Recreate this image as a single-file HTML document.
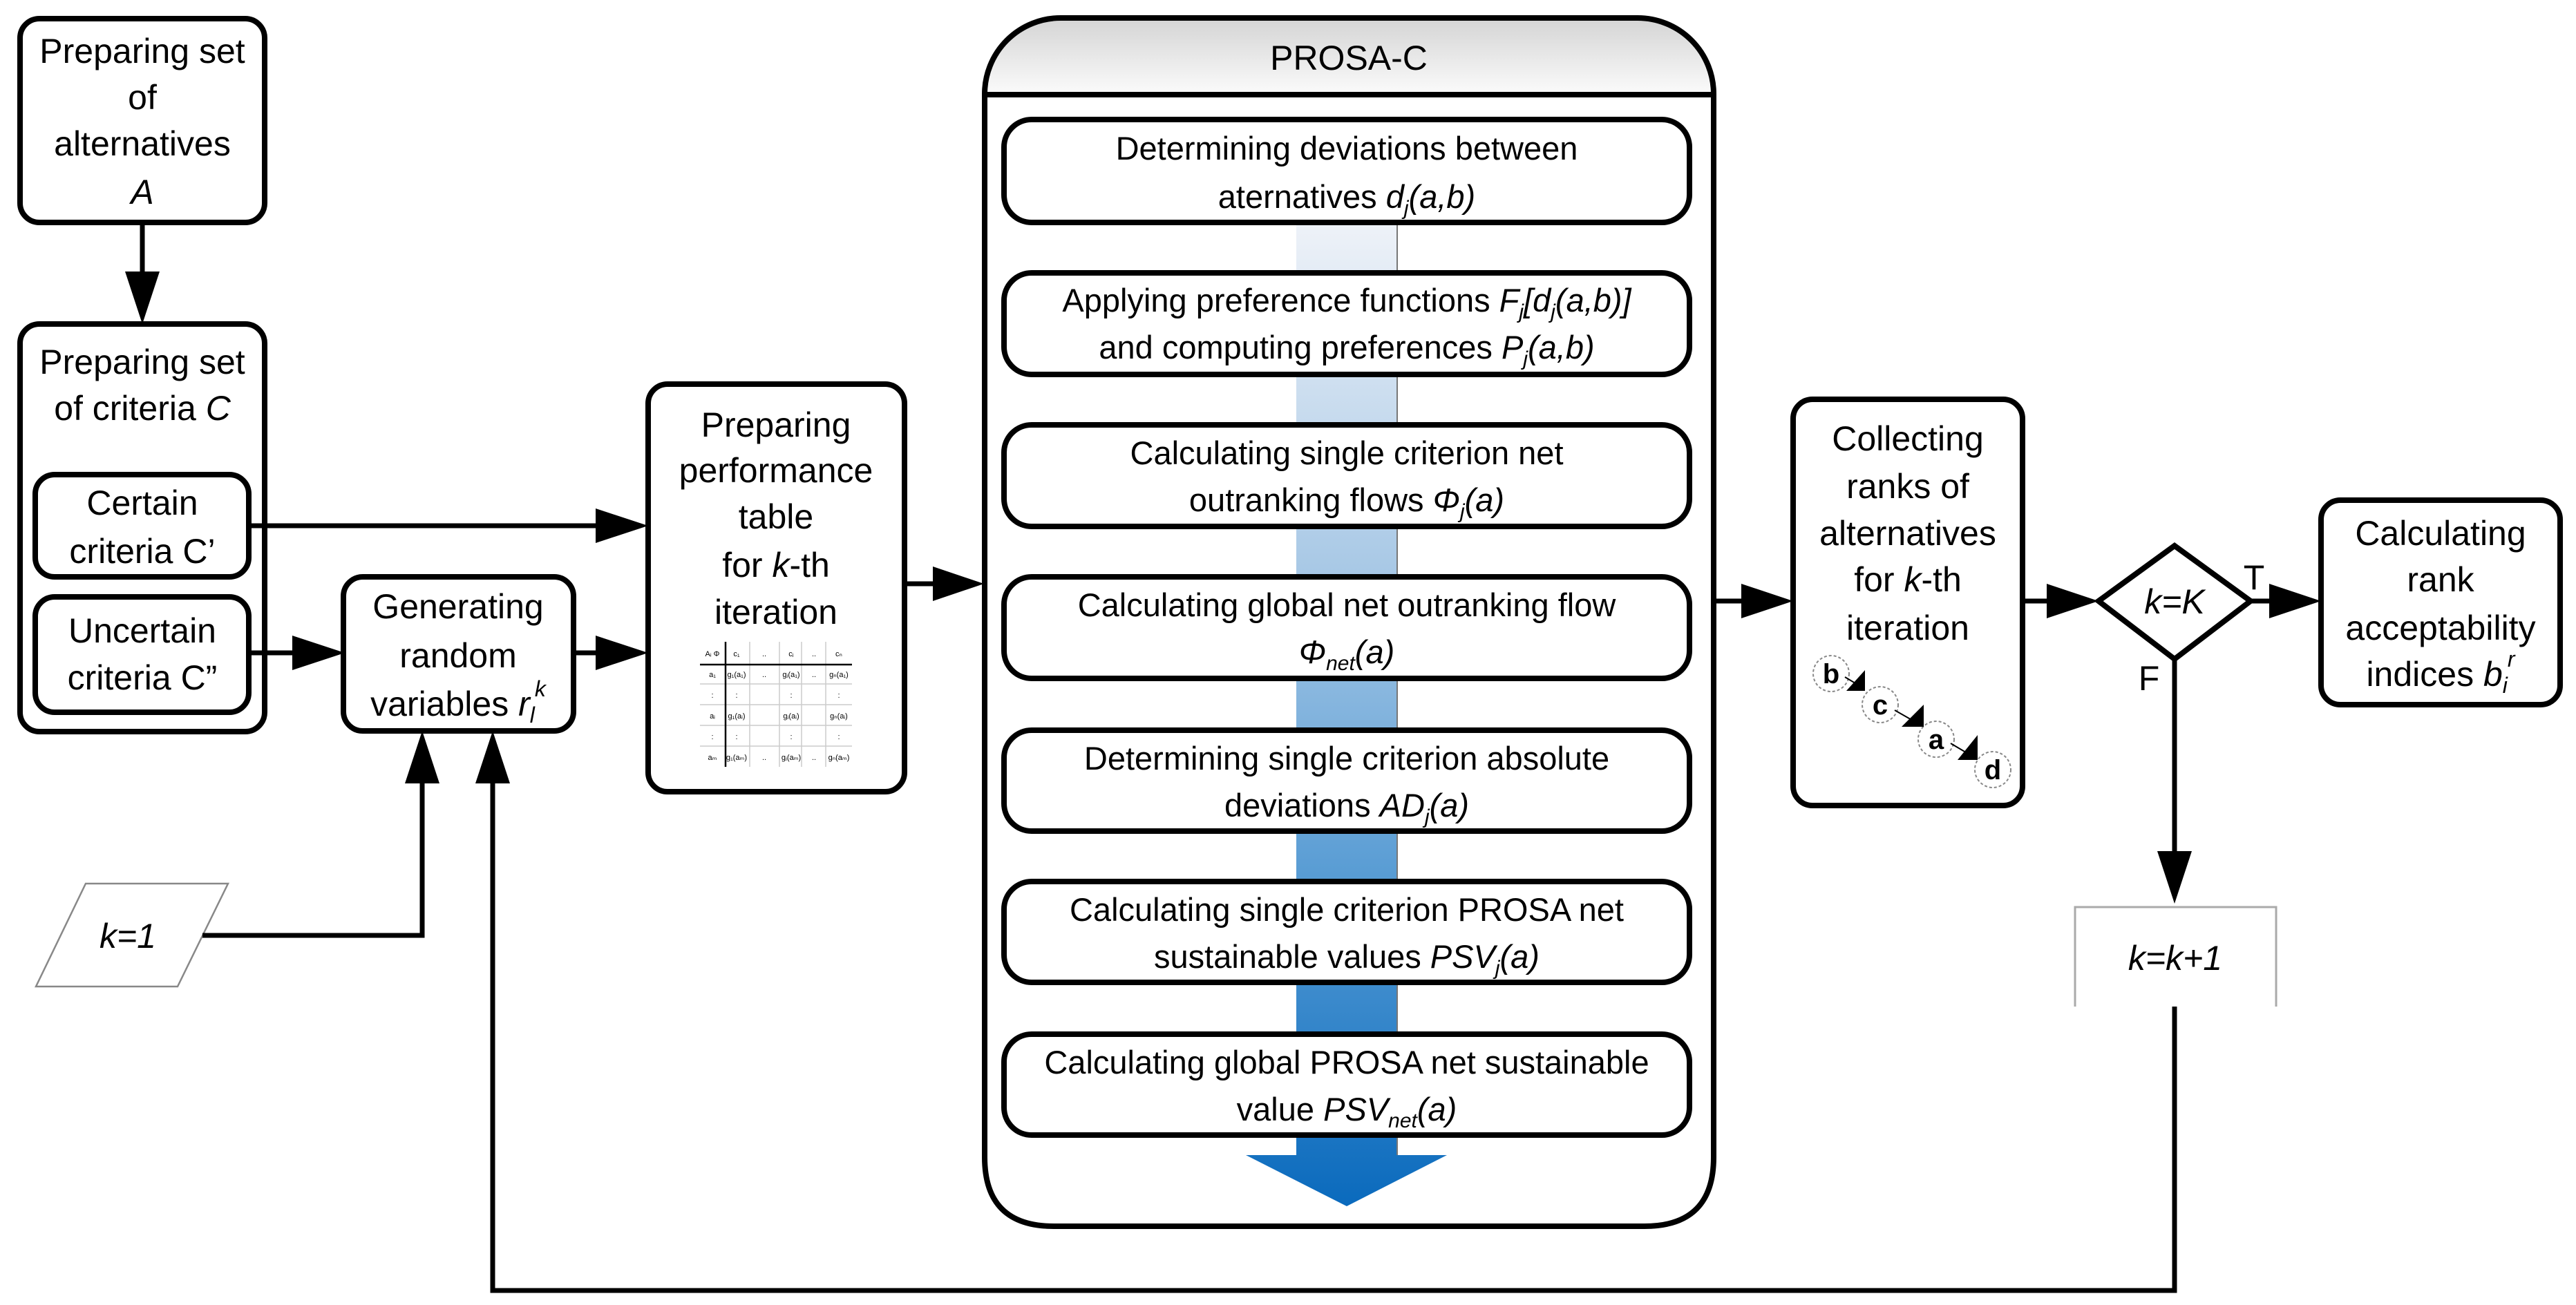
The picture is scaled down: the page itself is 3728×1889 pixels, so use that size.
<!DOCTYPE html>
<html><head><meta charset="utf-8"><style>
html,body{margin:0;padding:0;background:#fff;}
svg{display:block;}
text{font-family:"Liberation Sans",sans-serif;fill:#000;}
</style></head><body>
<svg width="3728" height="1889" viewBox="0 0 3728 1889" xmlns="http://www.w3.org/2000/svg">
<defs>
<linearGradient id="blue" gradientUnits="userSpaceOnUse" x1="0" y1="322" x2="0" y2="1746">
<stop offset="0" stop-color="#eef2f8"/><stop offset="0.35" stop-color="#a9c9e6"/><stop offset="0.7" stop-color="#4f97d2"/><stop offset="1" stop-color="#0a6abd"/></linearGradient>
<linearGradient id="hdr" x1="0" y1="0" x2="0" y2="1"><stop offset="0" stop-color="#d4d4d4"/><stop offset="1" stop-color="#fbfbfb"/></linearGradient>
</defs>
<rect width="3728" height="1889" fill="#fff"/>

<!-- PROSA-C container -->
<path d="M1425,137 V136 A110,110 0 0 1 1535,26 H2370 A110,110 0 0 1 2480,136 V137 Z" fill="url(#hdr)"/>
<path d="M1425,136 A110,110 0 0 1 1535,26 H2370 A110,110 0 0 1 2480,136 V1675 Q2480,1775 2380,1775 H1525 Q1425,1775 1425,1675 Z" fill="none" stroke="#000" stroke-width="8"/>
<line x1="1425" y1="137" x2="2480" y2="137" stroke="#000" stroke-width="8"/>
<text x="1952" y="101" font-size="50" text-anchor="middle">PROSA-C</text>
<rect x="1876" y="322" width="146" height="1352" fill="url(#blue)"/>
<line x1="2022" y1="322" x2="2022" y2="1672" stroke="#777" stroke-width="2"/>
<polygon points="1803,1672 2094,1672 1949,1746" fill="url(#blue)"/>

<g fill="#fff" stroke="#000" stroke-width="8">
<rect x="1453" y="173" width="992" height="149" rx="40"/>
<rect x="1453" y="395" width="992" height="147" rx="40"/>
<rect x="1453" y="615" width="992" height="147" rx="40"/>
<rect x="1453" y="835" width="992" height="147" rx="40"/>
<rect x="1453" y="1057" width="992" height="146" rx="40"/>
<rect x="1453" y="1276" width="992" height="146" rx="40"/>
<rect x="1453" y="1497" width="992" height="146" rx="40"/>
</g>
<g font-size="47" text-anchor="middle">
<text x="1949" y="231">Determining deviations between</text>
<text x="1949" y="301">aternatives <tspan font-style="italic">d<tspan font-size="30" dy="10">j</tspan><tspan dy="-10">(a,b)</tspan></tspan></text>
<text x="1949" y="451">Applying preference functions <tspan font-style="italic">F<tspan font-size="30" dy="10">j</tspan><tspan dy="-10">[d</tspan><tspan font-size="30" dy="10">j</tspan><tspan dy="-10">(a,b)]</tspan></tspan></text>
<text x="1949" y="519">and computing preferences <tspan font-style="italic">P<tspan font-size="30" dy="10">j</tspan><tspan dy="-10">(a,b)</tspan></tspan></text>
<text x="1949" y="672">Calculating single criterion net</text>
<text x="1949" y="740">outranking flows <tspan font-style="italic">Φ<tspan font-size="30" dy="10">j</tspan><tspan dy="-10">(a)</tspan></tspan></text>
<text x="1949" y="892">Calculating global net outranking flow</text>
<text x="1949" y="960"><tspan font-style="italic">Φ<tspan font-size="30" dy="10">net</tspan><tspan dy="-10">(a)</tspan></tspan></text>
<text x="1949" y="1114">Determining single criterion absolute</text>
<text x="1949" y="1182">deviations <tspan font-style="italic">AD<tspan font-size="30" dy="10">j</tspan><tspan dy="-10">(a)</tspan></tspan></text>
<text x="1949" y="1333">Calculating single criterion PROSA net</text>
<text x="1949" y="1401">sustainable values <tspan font-style="italic">PSV<tspan font-size="30" dy="10">j</tspan><tspan dy="-10">(a)</tspan></tspan></text>
<text x="1949" y="1554">Calculating global PROSA net sustainable</text>
<text x="1949" y="1622">value <tspan font-style="italic">PSV<tspan font-size="30" dy="10">net</tspan><tspan dy="-10">(a)</tspan></tspan></text>
</g>

<!-- Left boxes -->
<g fill="#fff" stroke="#000" stroke-width="8">
<rect x="29" y="27" width="354" height="295" rx="28"/>
<rect x="29" y="469" width="354" height="590" rx="28"/>
<rect x="51" y="687" width="309" height="148" rx="28"/>
<rect x="51" y="864" width="309" height="167" rx="28"/>
<rect x="497" y="835" width="333" height="223" rx="28"/>
<rect x="938" y="556" width="371" height="590" rx="28"/>
<rect x="2595" y="578" width="332" height="588" rx="28"/>
<rect x="3359" y="724" width="346" height="296" rx="28"/>
<polygon points="3037,870 3147,790 3257,870 3147,954"/>
</g>
<g font-size="50" text-anchor="middle">
<text x="206" y="91">Preparing set</text>
<text x="206" y="158">of</text>
<text x="206" y="225">alternatives</text>
<text x="206" y="295" font-style="italic">A</text>
<text x="206" y="541">Preparing set</text>
<text x="206" y="608">of criteria <tspan font-style="italic">C</tspan></text>
<text x="206" y="745">Certain</text>
<text x="206" y="815">criteria C’</text>
<text x="206" y="930">Uncertain</text>
<text x="206" y="998">criteria C”</text>
<text x="663" y="895">Generating</text>
<text x="663" y="966">random</text>
<text x="663" y="1036">variables <tspan font-style="italic">r<tspan font-size="32" dy="10">l</tspan><tspan font-size="32" dy="-38">k</tspan></tspan></text>
<text x="1123" y="632">Preparing</text>
<text x="1123" y="698">performance</text>
<text x="1123" y="765">table</text>
<text x="1123" y="835">for <tspan font-style="italic">k</tspan>-th</text>
<text x="1123" y="903">iteration</text>
<text x="2761" y="652">Collecting</text>
<text x="2761" y="721">ranks of</text>
<text x="2761" y="789">alternatives</text>
<text x="2761" y="856">for <tspan font-style="italic">k</tspan>-th</text>
<text x="2761" y="926">iteration</text>
<text x="3532" y="789">Calculating</text>
<text x="3532" y="856">rank</text>
<text x="3532" y="926">acceptability</text>
<text x="3532" y="993">indices <tspan font-style="italic">b<tspan font-size="32" dy="10">i</tspan><tspan font-size="32" dy="-38">r</tspan></tspan></text>
<text x="3147" y="888" font-style="italic">k=K</text>
<text x="3262" y="853">T</text>
<text x="3110" y="999">F</text>
<text x="3148" y="1404" font-style="italic">k=k+1</text>
<text x="185" y="1372" font-style="italic">k=1</text>
</g>

<!-- mini table -->
<g stroke="#ccc" stroke-width="1.5">
<line x1="1013" y1="990" x2="1233" y2="990"/><line x1="1013" y1="1020" x2="1233" y2="1020"/>
<line x1="1013" y1="1050" x2="1233" y2="1050"/><line x1="1013" y1="1080" x2="1233" y2="1080"/>
<line x1="1085" y1="929" x2="1085" y2="1110"/><line x1="1128" y1="929" x2="1128" y2="1110"/>
<line x1="1160" y1="929" x2="1160" y2="1110"/><line x1="1195" y1="929" x2="1195" y2="1110"/>
</g>
<line x1="1013" y1="962" x2="1233" y2="962" stroke="#000" stroke-width="2.5"/>
<line x1="1050" y1="929" x2="1050" y2="1110" stroke="#000" stroke-width="2.5"/>
<g font-size="11" fill="#555" text-anchor="middle">
<text x="1031" y="950">Aᵢ Φ</text><text x="1066" y="950">c₁</text><text x="1106" y="950">..</text><text x="1145" y="950">cⱼ</text><text x="1178" y="950">..</text><text x="1214" y="950">cₙ</text>
<text x="1031" y="980">a₁</text><text x="1066" y="980">g₁(a₁)</text><text x="1106" y="980">..</text><text x="1145" y="980">gⱼ(a₁)</text><text x="1178" y="980">..</text><text x="1214" y="980">gₙ(a₁)</text>
<text x="1031" y="1010">:</text><text x="1066" y="1010">:</text><text x="1145" y="1010">:</text><text x="1214" y="1010">:</text>
<text x="1031" y="1040">aᵢ</text><text x="1066" y="1040">g₁(aᵢ)</text><text x="1145" y="1040">gⱼ(aᵢ)</text><text x="1214" y="1040">gₙ(aᵢ)</text>
<text x="1031" y="1070">:</text><text x="1066" y="1070">:</text><text x="1145" y="1070">:</text><text x="1214" y="1070">:</text>
<text x="1031" y="1100">aₘ</text><text x="1066" y="1100">g₁(aₘ)</text><text x="1106" y="1100">..</text><text x="1145" y="1100">gⱼ(aₘ)</text><text x="1178" y="1100">..</text><text x="1214" y="1100">gₙ(aₘ)</text>
</g>

<!-- rank circles -->
<g fill="none" stroke="#888" stroke-width="2" stroke-dasharray="4,3">
<circle cx="2650" cy="975" r="26"/><circle cx="2721" cy="1020" r="26"/>
<circle cx="2802" cy="1070" r="26"/><circle cx="2884" cy="1114" r="26"/>
</g>
<g font-size="40" font-weight="bold" text-anchor="middle">
<text x="2650" y="989">b</text><text x="2721" y="1034">c</text><text x="2802" y="1084">a</text><text x="2884" y="1128">d</text>
</g>
<g stroke="#000" stroke-width="2">
<line x1="2670" y1="980" x2="2690" y2="992"/>
<line x1="2742" y1="1028" x2="2770" y2="1044"/>
<line x1="2823" y1="1076" x2="2850" y2="1092"/>
</g>
<g fill="#000">
<polygon points="2699,970 2699,1000 2672,1000"/>
<polygon points="2784,1020 2784,1052 2752,1052"/>
<polygon points="2862,1064 2862,1100 2833,1100"/>
</g>

<!-- k=1 parallelogram and k=k+1 box -->
<polygon points="124,1279 330,1279 257,1428 52,1428" fill="none" stroke="#888" stroke-width="2.5"/>
<path d="M3003,1457 V1313 H3294 V1457" fill="none" stroke="#aaa" stroke-width="3"/>

<!-- connectors -->
<g stroke="#000" stroke-width="7" fill="none">
<line x1="206" y1="322" x2="206" y2="400"/>
<line x1="360" y1="761" x2="866" y2="761"/>
<line x1="360" y1="945" x2="427" y2="945"/>
<line x1="830" y1="945" x2="866" y2="945"/>
<line x1="1309" y1="845" x2="1354" y2="845"/>
<line x1="2483" y1="870" x2="2524" y2="870"/>
<line x1="2927" y1="870" x2="2966" y2="870"/>
<line x1="3257" y1="870" x2="3288" y2="870"/>
<line x1="3147" y1="954" x2="3147" y2="1236"/>
<polyline points="3147,1457 3147,1868 713,1868 713,1130"/>
<polyline points="293,1354 611,1354 611,1130"/>
</g>
<g fill="#000">
<polygon points="181,393 231,393 206,469"/>
<polygon points="862,736 862,786 938,761"/>
<polygon points="423,920 423,970 499,945"/>
<polygon points="862,920 862,970 938,945"/>
<polygon points="1350,820 1350,870 1424,845"/>
<polygon points="2520,845 2520,895 2595,870"/>
<polygon points="2962,845 2962,895 3037,870"/>
<polygon points="3284,845 3284,895 3359,870"/>
<polygon points="3122,1232 3172,1232 3147,1308"/>
<polygon points="688,1134 738,1134 713,1058"/>
<polygon points="586,1134 636,1134 611,1058"/>
</g>
</svg>
</body></html>
